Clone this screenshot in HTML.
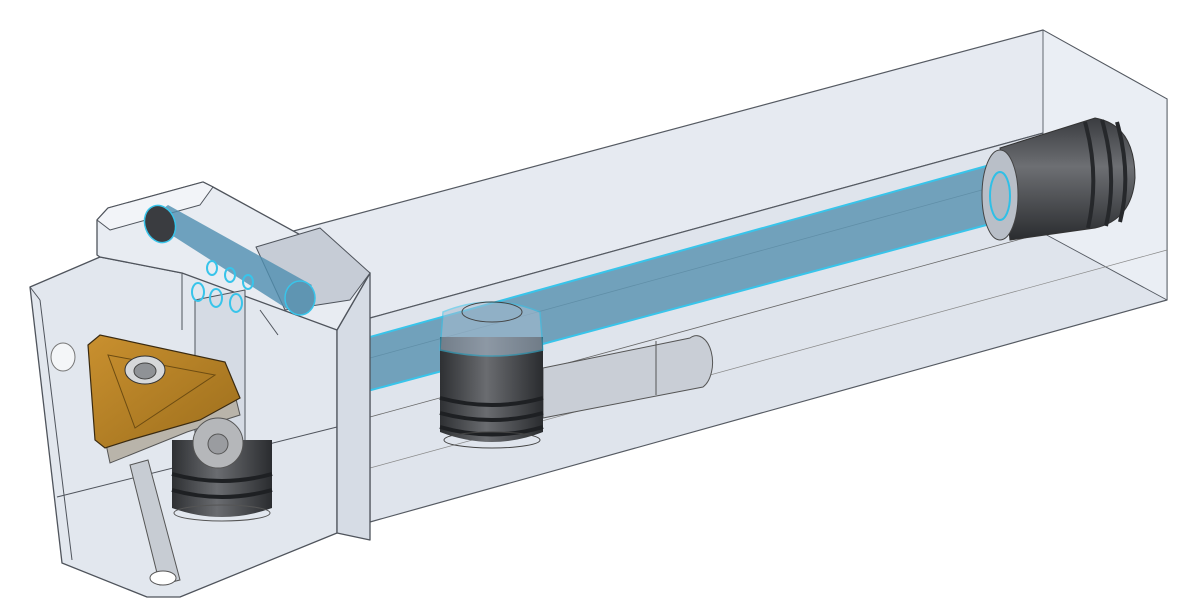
<!DOCTYPE html>
<html><head><style>html,body{margin:0;padding:0;background:#fff;}svg{display:block}</style></head>
<body>
<svg width="1198" height="613" viewBox="0 0 1198 613" xmlns="http://www.w3.org/2000/svg">
<defs>
<linearGradient id="scr" x1="0" x2="1" y1="0" y2="0">
<stop offset="0" stop-color="#2e3033"/><stop offset="0.45" stop-color="#6a6c70"/><stop offset="1" stop-color="#2a2c2f"/>
</linearGradient>
<linearGradient id="scrv" x1="0" x2="0" y1="0" y2="1">
<stop offset="0" stop-color="#3a3c40"/><stop offset="0.4" stop-color="#6d6f73"/><stop offset="1" stop-color="#2a2c2f"/>
</linearGradient>
<linearGradient id="gold" x1="0" x2="1" y1="0" y2="1">
<stop offset="0" stop-color="#c9902f"/><stop offset="1" stop-color="#9c6e1c"/>
</linearGradient>
</defs>
<rect width="1198" height="613" fill="#fff"/>
<g stroke="#555a62" stroke-width="1.2" stroke-linejoin="round">
<polygon points="260,240 1043,30 1167,99 370,318" fill="#e6eaf1"/>
<polygon points="370,318 1167,99 1167,300 370,522" fill="#dfe4ec"/>
<polygon points="1043,30 1167,99 1167,300 1043,233" fill="#eaeef4" stroke-width="0.9"/>
<line x1="370" y1="358" x2="1000" y2="185" stroke-width="0.8" stroke="#666"/>
<line x1="370" y1="417" x2="1043" y2="233" stroke-width="0.8" stroke="#666"/>
<line x1="370" y1="468" x2="1167" y2="250" stroke-width="0.7" stroke="#888"/>
</g>
<!-- slot -->
<path d="M543,368 L690,338 A15,25 0 0 1 703,387 L543,418 Z" fill="#c9ced6" stroke="#555" stroke-width="1"/>
<line x1="656" y1="341" x2="656" y2="395" stroke="#555" stroke-width="1"/>
<!-- blue long tube -->
<polygon points="240,373 990,165 1005,220 267,418" fill="#5e95b3" opacity="0.85"/>
<line x1="240" y1="373" x2="990" y2="165" stroke="#38c4ea" stroke-width="2"/>
<line x1="267" y1="418" x2="1005" y2="220" stroke="#38c4ea" stroke-width="2"/>
<!-- right end screw -->
<path d="M1000,148 L1095,118 Q1135,125 1135,178 Q1132,220 1095,228 L1010,240 Z" fill="url(#scrv)" stroke="#333"/>
<g stroke="#26282b" stroke-width="4" fill="none">
<path d="M1085,122 Q1100,175 1088,228"/><path d="M1102,120 Q1118,175 1106,226"/><path d="M1117,122 Q1132,175 1120,222"/>
</g>
<ellipse cx="1000" cy="195" rx="18" ry="45" fill="#b9bfc8" stroke="#444"/>
<ellipse cx="1000" cy="196" rx="10" ry="24" fill="#b0b8c2" stroke="#2fbfe6" stroke-width="2"/>
<!-- middle screw -->
<path d="M440,337 L543,337 L543,432 Q492,452 440,432 Z" fill="url(#scr)"/>
<g stroke="#1e2023" stroke-width="4" fill="none">
<path d="M440,398 Q492,412 543,398"/><path d="M440,413 Q492,427 543,413"/><path d="M440,427 Q492,442 543,427"/>
</g>
<ellipse cx="492" cy="440" rx="48" ry="8" fill="none" stroke="#444"/>
<path d="M443,312 Q492,292 540,312 L543,350 Q492,362 440,350 Z" fill="#aabdd0" opacity="0.55" stroke="#38c4ea" stroke-width="1.5"/>
<ellipse cx="492" cy="312" rx="30" ry="10" fill="none" stroke="#444"/>
<!-- head block -->
<g stroke="#4f545c" stroke-width="1.3" stroke-linejoin="round">
<polygon points="30,287 100,257 182,273 290,290 337,330 337,533 180,597 147,597 62,563" fill="#e2e7ee"/>
<polygon points="337,330 370,273 370,540 337,533" fill="#d6dce5"/>
<polygon points="97,220 108,208 203,182 213,187 370,273 337,330 182,273 100,257 97,255" fill="#e8ecf2"/>
<polygon points="97,220 108,208 203,182 213,187 200,205 110,230" fill="#f2f4f8" stroke-width="1"/>
<line x1="97" y1="220" x2="97" y2="255" stroke-width="1"/>
<line x1="182" y1="273" x2="182" y2="330" stroke-width="1"/>
<line x1="30" y1="287" x2="40" y2="300" stroke-width="1"/>
<line x1="40" y1="300" x2="72" y2="560" stroke-width="1"/>
<line x1="57" y1="497" x2="337" y2="427" stroke-width="1"/>
<polygon points="195,300 245,290 245,490 195,505" fill="#d5dbe4" stroke-width="1"/>
<polygon points="256,247 320,228 370,273 350,300 285,310" fill="#c6ccd6" stroke-width="1"/>
<line x1="260" y1="310" x2="278" y2="335" stroke-width="1"/>
</g>
<!-- top small tube -->
<polygon points="148,220 168,205 312,285 292,312" fill="#4f8fb0" opacity="0.8"/>
<ellipse cx="160" cy="224" rx="15" ry="19" fill="#3a3c40" stroke="#38c4ea" stroke-width="1.5" transform="rotate(-20 160 224)"/>
<ellipse cx="300" cy="298" rx="15" ry="17" fill="#5f95b2" stroke="#38c4ea" stroke-width="1.5"/>
<g fill="none" stroke="#38c4ea" stroke-width="2">
<ellipse cx="198" cy="292" rx="6" ry="9"/><ellipse cx="216" cy="298" rx="6" ry="9"/><ellipse cx="236" cy="303" rx="6" ry="9"/>
<ellipse cx="212" cy="268" rx="5" ry="7"/><ellipse cx="230" cy="275" rx="5" ry="7"/><ellipse cx="248" cy="282" rx="5" ry="7"/>
</g>
<!-- rod -->
<polygon points="130,465 148,460 180,580 160,585" fill="#c7ccd3" stroke="#555"/>
<ellipse cx="163" cy="578" rx="13" ry="7" fill="#fff" stroke="#555"/>
<!-- left screw -->
<path d="M172,440 L272,440 L272,508 Q222,526 172,508 Z" fill="url(#scr)"/>
<g stroke="#1e2023" stroke-width="4" fill="none">
<path d="M172,474 Q222,488 272,474"/><path d="M172,490 Q222,504 272,490"/>
</g>
<ellipse cx="222" cy="513" rx="48" ry="8" fill="none" stroke="#555"/>
<!-- shim & clamp screw -->
<polygon points="103,430 235,395 240,415 187,432 110,463" fill="#b9b4aa" stroke="#555"/>
<circle cx="218" cy="443" r="25" fill="#b5b7ba" stroke="#555"/>
<circle cx="218" cy="444" r="10" fill="#9a9ca0" stroke="#555"/>
<!-- insert -->
<polygon points="88,345 100,335 225,362 240,398 200,420 130,440 105,448 95,440" fill="url(#gold)" stroke="#3a2a10" stroke-width="1.2"/>
<polygon points="108,355 215,375 135,428" fill="none" stroke="#6d4c12" stroke-width="1"/>
<ellipse cx="145" cy="370" rx="20" ry="14" fill="#d6d8da" stroke="#333"/>
<ellipse cx="145" cy="371" rx="11" ry="8" fill="#8f9296" stroke="#444"/>
<ellipse cx="63" cy="357" rx="12" ry="14" fill="#f4f6f8" stroke="#777"/>
</svg>
</body></html>
